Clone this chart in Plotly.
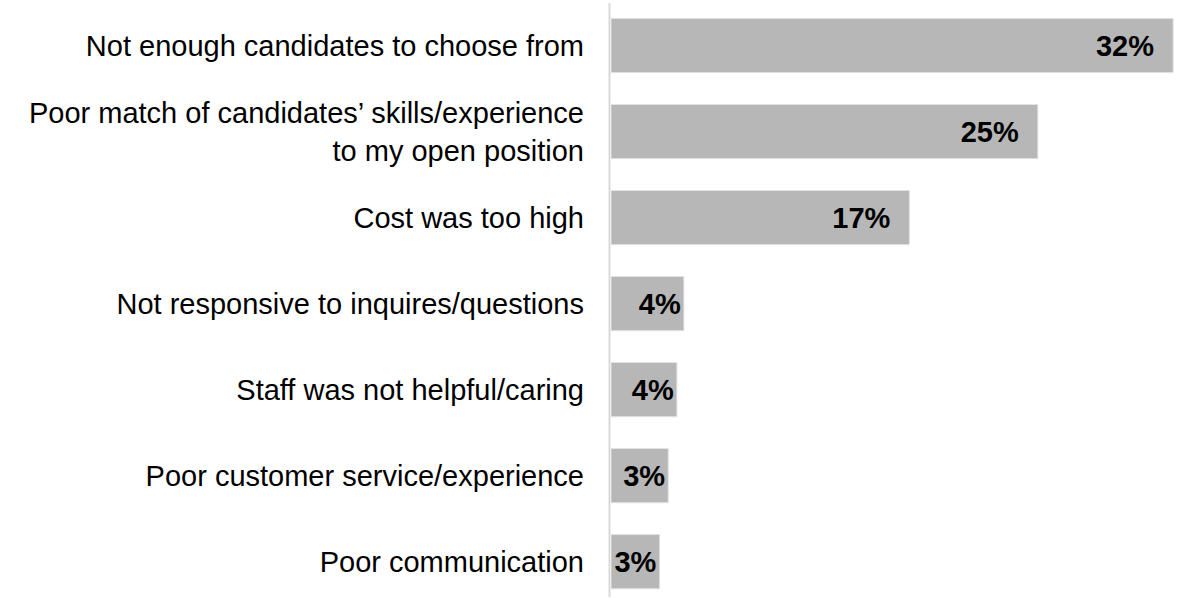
import plotly.graph_objects as go

# Reasons given, top to bottom
reasons = [
    "Not enough candidates to choose from",
    "Poor match of candidates’ skills/experience<br>to my open position",
    "Cost was too high",
    "Not responsive to inquires/questions",
    "Staff was not helpful/caring",
    "Poor customer service/experience",
    "Poor communication",
]
# Share of respondents (%)
shares = [32.4, 24.6, 17.2, 4.2, 3.8, 3.3, 2.8]

W, H = 1181, 598
LEFT = 611
PLOT_W = W - LEFT
PX_PER_PCT = 17.35
ROW_PX = 86.03
FIRST_ROW_Y = 45.5

# Value labels sit near the bar end, with a wider gap on the long bars
NBSP = "\u00a0"
templates = [
    "%{x:.0f}%" + (NBSP * 2 if v >= 10 else "") for v in shares
]

fig = go.Figure(
    go.Bar(
        x=shares,
        y=list(range(len(reasons))),
        orientation="h",
        marker=dict(color="#b7b7b7", line=dict(color="#e2e2e2", width=1)),
        texttemplate=templates,
        textposition="inside",
        insidetextanchor="end",
        constraintext="none",
        textangle=0,
        textfont=dict(family="Liberation Sans, Arial, sans-serif", size=29,
                      color="#000000", weight="bold"),
        hoverinfo="skip",
        width=0.63,
    )
)

top = -FIRST_ROW_Y / ROW_PX
bottom = top + H / ROW_PX

fig.update_layout(
    width=W,
    height=H,
    margin=dict(l=LEFT, r=0, t=0, b=0),
    paper_bgcolor="#ffffff",
    plot_bgcolor="#ffffff",
    showlegend=False,
    font=dict(family="Liberation Sans, Arial, sans-serif", size=29, color="#000000"),
    xaxis=dict(
        range=[0, PLOT_W / PX_PER_PCT],
        showgrid=False,
        zeroline=False,
        showline=False,
        showticklabels=False,
        ticks="",
    ),
    yaxis=dict(
        range=[bottom, top],
        tickmode="array",
        tickvals=list(range(len(reasons))),
        ticktext=reasons,
        showgrid=False,
        zeroline=False,
        showline=False,
        ticks="",
        ticklabelstandoff=26,
        tickfont=dict(family="Liberation Sans, Arial, sans-serif", size=29,
                      color="#000000"),
    ),
    shapes=[
        dict(
            type="line",
            xref="paper",
            yref="paper",
            x0=-1.5 / PLOT_W,
            x1=-1.5 / PLOT_W,
            y0=1 - 597 / H,
            y1=1 - 3 / H,
            line=dict(color="#d9d9d9", width=2),
        )
    ],
)

fig.write_html("out.html")
